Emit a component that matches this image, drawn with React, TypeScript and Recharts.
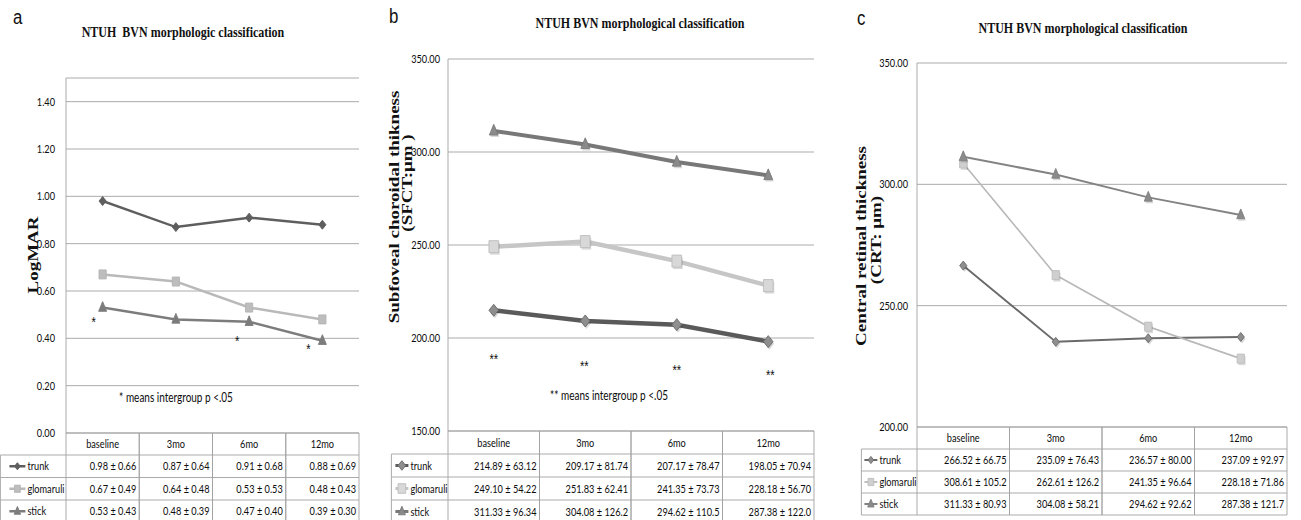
import React from 'react';
import { LineChart, Line, XAxis, YAxis, CartesianGrid } from 'recharts';

// The original figure is horizontally squeezed; draw wide and squeeze with CSS.
const S = 0.8;
const PAGE_W = 1301;
const PAGE_H = 520;
const W = Math.round(PAGE_W / S);
const u = (x: number) => x / S;

const categories = ['baseline', '3mo', '6mo', '12mo'];
const seriesNames = ['trunk', 'glomaruli', 'stick'];

// Panel a: LogMAR
const aTrunk = [0.98, 0.87, 0.91, 0.88];
const aTrunkSD = ['0.66', '0.64', '0.68', '0.69'];
const aGlom = [0.67, 0.64, 0.53, 0.48];
const aGlomSD = ['0.49', '0.48', '0.53', '0.43'];
const aStick = [0.53, 0.48, 0.47, 0.39];
const aStickSD = ['0.43', '0.39', '0.40', '0.30'];
const aTicks = [0, 0.2, 0.4, 0.6, 0.8, 1.0, 1.2, 1.4];
const aAsterisk: (number | null)[] = [0.48, null, 0.4, 0.365];

// Panel b: subfoveal choroidal thickness
const bTrunk = [214.89, 209.17, 207.17, 198.05];
const bTrunkSD = ['63.12', '81.74', '78.47', '70.94'];
const bGlom = [249.1, 251.83, 241.35, 228.18];
const bGlomSD = ['54.22', '62.41', '73.73', '56.70'];
const bStick = [311.33, 304.08, 294.62, 287.38];
const bStickSD = ['96.34', '126.2', '110.5', '122.0'];
const bTicks = [150, 200, 250, 300, 350];
const bAsterisk: (number | null)[] = [190.3, 186.6, 184.4, 181.7];

// Panel c: central retinal thickness
const cTrunk = [266.52, 235.09, 236.57, 237.09];
const cTrunkSD = ['66.75', '76.43', '80.00', '92.97'];
const cGlom = [308.61, 262.61, 241.35, 228.18];
const cGlomSD = ['105.2', '126.2', '96.64', '71.86'];
const cStick = [311.33, 304.08, 294.62, 287.38];
const cStickSD = ['80.93', '58.21', '92.62', '121.7'];
const cTicks = [200, 250, 300, 350];
const cAsterisk: (number | null)[] = [null, null, null, null];

const GRID = '#a2a2a2';
const BORDER = '#a2a2a2';
const TEXT = '#0d0d0d';
const SANS = "Lato, 'Liberation Sans', sans-serif";
const SERIF = "'Liberation Serif', 'Times New Roman', serif";

type Kind = 'diamond' | 'square' | 'triangle';
interface Mk { kind: Kind; r: number; fill: string; stroke: string; shadow?: boolean }
interface SeriesCfg { key: string; name: string; values: number[]; sd: string[]; color: string; width: number; mk: Mk }

function markerPath(kind: Kind, cx: number, cy: number, r: number) {
  if (kind === 'diamond') return `M${cx},${cy - r}L${cx + r},${cy}L${cx},${cy + r}L${cx - r},${cy}Z`;
  if (kind === 'square') return `M${cx - r},${cy - r}H${cx + r}V${cy + r}H${cx - r}Z`;
  return `M${cx},${cy - r * 1.2}L${cx + r},${cy + r * 0.75}L${cx - r},${cy + r * 0.75}Z`;
}

function MarkerGlyph({ cx, cy, mk }: { cx: number; cy: number; mk: Mk }) {
  return (
    <g>
      {mk.shadow ? <path d={markerPath(mk.kind, cx + 1.5, cy + 2, mk.r)} fill="#000" opacity={0.15} /> : null}
      <path d={markerPath(mk.kind, cx, cy, mk.r)} fill={mk.fill} stroke={mk.stroke} strokeWidth={1} />
    </g>
  );
}

function makeSeries(values: number[][], sds: string[][], styles: { color: string; width: number; mk: Mk }[]): SeriesCfg[] {
  return seriesNames.map((name, k) => ({ key: name, name, values: values[k], sd: sds[k], ...styles[k] }));
}

interface PanelCfg {
  id: string;
  letter: string; letterX: number; letterY: number;
  title: string; titleX: number; titleY: number;
  yLabels: { text: string; x: number; y: number }[];
  plotLeft: number; plotRight: number; plotTop: number; plotBottom: number;
  yDomain: [number, number]; yTicks: number[]; yTickRight: number;
  rowLabelLeft: number; headerH: number; rowH: number; closeBottom: boolean;
  legend: { l0: number; l1: number; tx: number };
  series: SeriesCfg[];
  asterisk: (number | null)[]; astMark: string; astDx: number[];
  note?: { text: string; x: number; y: number };
}

const panels: PanelCfg[] = [
  {
    id: 'a', letter: 'a', letterX: 13, letterY: 24,
    title: 'NTUH  BVN morphologic classification', titleX: 183, titleY: 37,
    yLabels: [{ text: 'LogMAR', x: 33, y: 255 }],
    plotLeft: 66, plotRight: 359, plotTop: 78, plotBottom: 433,
    yDomain: [0, 1.5], yTicks: aTicks, yTickRight: 55,
    rowLabelLeft: 0, headerH: 22, rowH: 22.5, closeBottom: false,
    legend: { l0: 9, l1: 25, tx: 27 },
    series: makeSeries([aTrunk, aGlom, aStick], [aTrunkSD, aGlomSD, aStickSD], [
      { color: '#5e5e5e', width: 2.5, mk: { kind: 'diamond', r: 4.5, fill: '#5e5e5e', stroke: '#5e5e5e' } },
      { color: '#b9b9b9', width: 2.5, mk: { kind: 'square', r: 4.5, fill: '#bdbdbd', stroke: '#b3b3b3' } },
      { color: '#7c7c7c', width: 2.5, mk: { kind: 'triangle', r: 5, fill: '#7c7c7c', stroke: '#7c7c7c' } },
    ]),
    asterisk: aAsterisk, astMark: '*', astDx: [-9, 0, -12, -14],
    note: { text: '* means intergroup p <.05', x: 176, y: 402 },
  },
  {
    id: 'b', letter: 'b', letterX: 389, letterY: 23,
    title: 'NTUH BVN morphological classification', titleX: 640, titleY: 28,
    yLabels: [
      { text: 'Subfoveal choroidal thikness', x: 394, y: 207 },
      { text: '(SFCT:\u03bcm )', x: 407, y: 183 },
    ],
    plotLeft: 448, plotRight: 814, plotTop: 59, plotBottom: 431,
    yDomain: [150, 350], yTicks: bTicks, yTickRight: 440,
    rowLabelLeft: 391, headerH: 23, rowH: 23, closeBottom: false,
    legend: { l0: 4, l1: 17, tx: 19 },
    series: makeSeries([bTrunk, bGlom, bStick], [bTrunkSD, bGlomSD, bStickSD], [
      { color: '#5a5a5a', width: 4.5, mk: { kind: 'diamond', r: 6, fill: '#8e8e8e', stroke: '#6a6a6a', shadow: true } },
      { color: '#c6c6c6', width: 4.5, mk: { kind: 'square', r: 6, fill: '#d8d8d8', stroke: '#bcbcbc', shadow: true } },
      { color: '#787878', width: 4, mk: { kind: 'triangle', r: 5.5, fill: '#8a8a8a', stroke: '#7a7a7a', shadow: true } },
    ]),
    asterisk: bAsterisk, astMark: '**', astDx: [0, -1, 0, 2],
    note: { text: '** means intergroup p <.05', x: 609, y: 400 },
  },
  {
    id: 'c', letter: 'c', letterX: 857, letterY: 25,
    title: 'NTUH BVN morphological classification', titleX: 1083, titleY: 33,
    yLabels: [
      { text: 'Central retinal thickness', x: 861, y: 246 },
      { text: '(CRT: \u03bcm)', x: 876, y: 240 },
    ],
    plotLeft: 917, plotRight: 1287, plotTop: 63, plotBottom: 427,
    yDomain: [200, 350], yTicks: cTicks, yTickRight: 908,
    rowLabelLeft: 861, headerH: 22, rowH: 22, closeBottom: true,
    legend: { l0: 3, l1: 16, tx: 18 },
    series: makeSeries([cTrunk, cGlom, cStick], [cTrunkSD, cGlomSD, cStickSD], [
      { color: '#6a6a6a', width: 2, mk: { kind: 'diamond', r: 4.5, fill: '#8e8e8e', stroke: '#6a6a6a', shadow: true } },
      { color: '#b8b8b8', width: 1.8, mk: { kind: 'square', r: 4.5, fill: '#cfcfcf', stroke: '#bdbdbd', shadow: true } },
      { color: '#838383', width: 2, mk: { kind: 'triangle', r: 5, fill: '#8a8a8a', stroke: '#808080', shadow: true } },
    ]),
    asterisk: cAsterisk, astMark: '', astDx: [0, 0, 0, 0],
  },
];

function Panel({ cfg }: { cfg: PanelCfg }) {
  const n = categories.length;
  const band = u(cfg.plotRight - cfg.plotLeft) / n;
  const yW = 70;
  const data = categories.map((cat, i) => {
    const row: any = { idx: i, cat, ast: cfg.asterisk[i] };
    cfg.series.forEach((s) => { row[s.key] = s.values[i]; });
    return row;
  });

  const renderTick = (p: any) => {
    const i = Number(p.payload?.value);
    const cx = p.x;
    const L = cx - band / 2;
    const R = cx + band / 2;
    const top = cfg.plotBottom;
    const hb = top + cfg.headerH;
    const bottom = hb + 3 * cfg.rowH;
    const els: any[] = [];
    els.push(<line key="t" x1={L} x2={R} y1={top} y2={top} stroke={BORDER} />);
    els.push(<line key="l" x1={L} x2={L} y1={top} y2={bottom} stroke={BORDER} />);
    els.push(<line key="r" x1={R} x2={R} y1={top} y2={bottom} stroke={BORDER} />);
    for (let r = 0; r < 3; r++) {
      const yy = hb + r * cfg.rowH;
      els.push(<line key={`h${r}`} x1={L} x2={R} y1={yy} y2={yy} stroke={BORDER} />);
    }
    if (cfg.closeBottom) els.push(<line key="b" x1={L} x2={R} y1={bottom} y2={bottom} stroke={BORDER} />);
    els.push(
      <text key="hd" x={cx} y={top + cfg.headerH / 2} dy="0.35em" textAnchor="middle" fontSize={11.5} fontFamily={SANS} fill={TEXT}>
        {categories[i]}
      </text>
    );
    cfg.series.forEach((s, r) => {
      els.push(
        <text key={`v${r}`} x={R - u(3)} y={hb + r * cfg.rowH + cfg.rowH / 2} dy="0.35em" textAnchor="end" fontSize={11.5} fontFamily={SANS} fill={TEXT}>
          {`${s.values[i].toFixed(2)} \u00b1 ${s.sd[i]}`}
        </text>
      );
    });
    if (i === 0) {
      const x0 = u(cfg.rowLabelLeft) + 0.5;
      els.push(<line key="ll" x1={x0} x2={x0} y1={hb} y2={bottom} stroke={BORDER} />);
      for (let r = 0; r < 3; r++) {
        const yy = hb + r * cfg.rowH;
        els.push(<line key={`lh${r}`} x1={x0} x2={L} y1={yy} y2={yy} stroke={BORDER} />);
      }
      if (cfg.closeBottom) els.push(<line key="lb" x1={x0} x2={L} y1={bottom} y2={bottom} stroke={BORDER} />);
      cfg.series.forEach((s, r) => {
        const yy = hb + r * cfg.rowH + cfg.rowH / 2;
        const a = x0 + u(cfg.legend.l0);
        const b = x0 + u(cfg.legend.l1);
        els.push(
          <g key={`lg${r}`}>
            <line x1={a} x2={b} y1={yy} y2={yy} stroke={s.color} strokeWidth={Math.min(s.width, 3)} />
            <MarkerGlyph cx={(a + b) / 2} cy={yy} mk={{ ...s.mk, r: s.mk.r * 0.8, shadow: false }} />
            <text x={x0 + u(cfg.legend.tx)} y={yy} dy="0.35em" fontSize={11.5} fontFamily={SANS} fill={TEXT}>
              {s.name}
            </text>
          </g>
        );
      });
    }
    return <g>{els}</g>;
  };

  const astDot = (p: any) => {
    const k = `ast-${p.index}`;
    const v = p.payload ? p.payload.ast : p.value;
    if (v == null || p.cy == null || Number.isNaN(p.cy) || !cfg.astMark) return <g key={k} />;
    return (
      <text key={k} x={p.cx + u(cfg.astDx[p.index] || 0)} y={p.cy} dy="0.55em" textAnchor="middle" fontSize={14} fontFamily="'Liberation Sans', Arial, sans-serif" fill={TEXT}>
        {cfg.astMark}
      </text>
    );
  };

  return (
    <LineChart
      width={W}
      height={PAGE_H}
      data={data}
      margin={{ top: cfg.plotTop, right: W - u(cfg.plotRight), bottom: 0, left: u(cfg.plotLeft) - yW }}
    >
      <CartesianGrid vertical={false} stroke={GRID} strokeWidth={1} />
      <XAxis
        type="number"
        dataKey="idx"
        domain={[-0.5, n - 0.5]}
        ticks={categories.map((_, i) => i)}
        interval={0}
        tickSize={0}
        tickMargin={0}
        axisLine={false}
        tickLine={false}
        height={PAGE_H - cfg.plotBottom}
        tick={renderTick}
      />
      <YAxis
        type="number"
        domain={cfg.yDomain}
        ticks={cfg.yTicks}
        width={yW}
        axisLine={{ stroke: GRID }}
        tickLine={false}
        tickSize={6}
        tickMargin={u(cfg.plotLeft - cfg.yTickRight) - 6}
        tick={{ fill: TEXT, fontSize: 11.5, fontFamily: SANS }}
        tickFormatter={(v: number) => v.toFixed(2)}
        allowDataOverflow
      />
      {cfg.series.map((s) => (
        <Line
          key={s.key}
          type="linear"
          dataKey={s.key}
          name={s.name}
          stroke={s.color}
          strokeWidth={s.width}
          isAnimationActive={false}
          activeDot={false}
          dot={(p: any) => <MarkerGlyph key={`${s.key}-${p.index}`} cx={p.cx} cy={p.cy} mk={s.mk} />}
        />
      ))}
      <Line
        key="ast"
        type="linear"
        dataKey="ast"
        stroke="none"
        isAnimationActive={false}
        activeDot={false}
        legendType="none"
        dot={astDot}
      />
    </LineChart>
  );
}

function Overlay() {
  return (
    <svg width={W} height={PAGE_H} style={{ position: 'absolute', left: 0, top: 0, pointerEvents: 'none' }}>
      {panels.map((cfg) => (
        <g key={cfg.id}>
          <text x={u(cfg.letterX)} y={cfg.letterY} fontSize={21} fontFamily="'Liberation Sans', Arial, sans-serif" fill="#111">
            {cfg.letter}
          </text>
          <text x={u(cfg.titleX)} y={cfg.titleY} textAnchor="middle" fontSize={15} fontWeight="bold" fontFamily={SERIF} fill="#111" style={{ whiteSpace: 'pre' }}>
            {cfg.title}
          </text>
          {cfg.yLabels.map((l, k) => (
            <text
              key={k}
              transform={`translate(${u(l.x)},${l.y}) rotate(-90)`}
              textAnchor="middle"
              dominantBaseline="central"
              fontSize={19}
              fontWeight="bold"
              fontFamily={SERIF}
              fill="#111"
            >
              {l.text}
            </text>
          ))}
          {cfg.note ? (
            <text x={u(cfg.note.x)} y={cfg.note.y} textAnchor="middle" fontSize={12.5} fontFamily={SANS} fill={TEXT}>
              {cfg.note.text}
            </text>
          ) : null}
        </g>
      ))}
    </svg>
  );
}

export default function App() {
  return (
    <div style={{ position: 'absolute', left: 0, top: 0, width: PAGE_W, height: PAGE_H, overflow: 'hidden', background: '#fff' }}>
      <div style={{ position: 'absolute', left: 0, top: 0, width: W, height: PAGE_H, transform: `scaleX(${S})`, transformOrigin: '0 0' }}>
        {panels.map((cfg) => (
          <div key={cfg.id} style={{ position: 'absolute', left: 0, top: 0 }}>
            <Panel cfg={cfg} />
          </div>
        ))}
        <Overlay />
      </div>
    </div>
  );
}
